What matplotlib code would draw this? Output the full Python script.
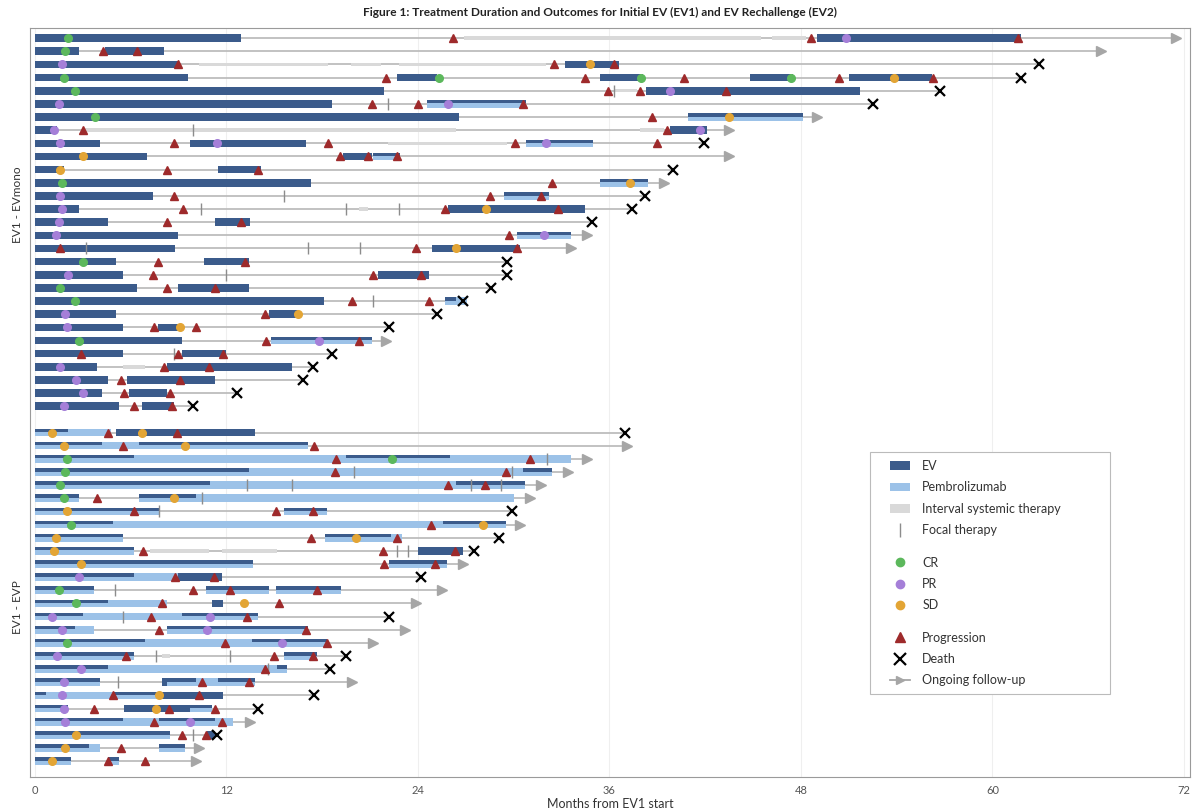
import numpy as np
import matplotlib
matplotlib.use("Agg")
import matplotlib.pyplot as plt
from matplotlib.patches import Patch, Rectangle
from matplotlib.lines import Line2D
from matplotlib.legend import Legend

plt.rcParams['font.family'] = ['Lato', 'DejaVu Sans']

# ---------------- EV1 - EVmono (top group, 29 patients) ----------------
mono_ev = [
    [(0, 12.9), (49.0, 61.8)], [(0, 2.8), (4.4, 8.1)], [(0, 9.0), (33.2, 36.6)],
    [(0, 9.6), (22.7, 25.2), (35.4, 38.1), (44.8, 47.5), (51.0, 56.2)],
    [(0, 21.9), (38.3, 51.7)], [(0, 18.6), (24.6, 30.8)], [(0, 26.6), (40.9, 48.1)],
    [(0, 1.4), (39.8, 42.1)], [(0, 4.1), (9.7, 17.0), (30.8, 35.0)],
    [(0, 7.0), (19.3, 21.1), (21.2, 22.9)], [(0, 1.8), (11.5, 14.2)],
    [(0, 17.3), (35.4, 38.4)], [(0, 7.4), (29.4, 32.2)], [(0, 2.8), (25.9, 34.5)],
    [(0, 4.6), (11.3, 13.5)], [(0, 9.0), (30.2, 33.6)], [(0, 8.8), (24.9, 30.4)],
    [(0, 5.1), (10.6, 13.4)], [(0, 5.5), (21.5, 24.7)], [(0, 6.4), (9.0, 13.4)],
    [(0, 18.1), (25.7, 26.4)], [(0, 5.1), (14.7, 16.5)], [(0, 5.5), (7.7, 9.0)],
    [(0, 9.2), (14.8, 21.1)], [(0, 5.5), (9.2, 12.0)], [(0, 3.9), (8.3, 16.1)],
    [(0, 4.6), (5.8, 11.3)], [(0, 4.2), (5.9, 8.3)], [(0, 5.3), (6.7, 8.7)],
]
mono_pem = [
    [], [], [], [], [], [(24.6, 30.8)], [(40.9, 48.1)], [], [(30.8, 35.0)],
    [(21.2, 22.9)], [], [(35.4, 38.4)], [(29.4, 32.2)], [], [], [(30.2, 33.6)],
    [], [], [], [], [(25.7, 27.1)], [], [], [(14.8, 21.1)], [], [], [], [], [],
]
mono_interval = [
    [(26.9, 45.5), (46.2, 48.3)], [], [(10.3, 18.4), (19.8, 21.7), (22.8, 32.0)],
    [], [(36.3, 37.7)], [], [], [(3.1, 26.4), (37.9, 39.4)], [(22.1, 29.6)],
    [], [], [], [], [(20.3, 20.9)], [], [], [], [], [], [], [], [], [], [], [],
    [(5.5, 6.9)], [], [], [],
]
mono_focal = [
    [], [], [], [], [36.3], [22.1], [], [9.9], [], [], [], [], [15.6],
    [10.4, 19.5, 22.8], [], [], [3.2, 17.1, 20.4], [], [12.0], [], [21.2],
    [], [], [], [8.7], [], [], [], [],
]
mono_cr = [
    [2.1], [1.9], [], [1.8, 25.3, 38.0, 47.4], [2.5], [], [3.8], [], [], [], [],
    [1.7], [], [], [], [], [], [3.0], [], [1.6], [2.5], [], [], [2.8], [], [],
    [], [], [],
]
mono_pr = [
    [50.8], [], [1.7], [], [39.8], [1.5, 25.9], [], [1.2, 41.7], [1.6, 11.4, 32.0],
    [], [], [], [1.6], [1.7], [1.5], [1.3, 31.9], [], [], [2.1], [], [], [1.9],
    [2.0], [17.8], [], [1.6], [2.6], [3.0], [1.8],
]
mono_sd = [
    [], [], [34.8], [53.8], [], [], [43.5], [], [], [3.0], [1.6], [37.3], [],
    [28.3], [], [], [26.4], [], [], [], [], [16.5], [9.1], [], [], [], [], [], [],
]
mono_prog = [
    [26.2, 48.6, 61.6], [4.3, 6.4], [9.0, 32.5, 36.3], [22.0, 34.5, 40.7, 50.4, 56.3],
    [35.9, 37.9, 43.3], [21.1, 24.0, 30.6], [38.7], [3.0, 39.6], [8.7, 18.4, 30.1, 39.0],
    [19.1, 20.9, 22.7], [8.3, 14.0], [32.4], [8.7, 28.5, 31.7], [9.3, 25.7, 32.8],
    [8.3, 12.9], [29.7], [1.6, 23.9, 30.2], [7.7, 13.2], [7.4, 21.2, 24.2], [8.3, 11.3],
    [19.9, 24.7], [14.4], [7.5, 10.1], [14.5, 20.3], [2.9, 9.0, 11.8], [8.1, 10.9],
    [5.4, 9.1], [5.6, 8.5], [6.2, 8.6],
]
mono_end = [71.5, 66.8, 62.9, 61.8, 56.7, 52.5, 49.0, 43.5, 41.9, 43.5, 40.0, 39.4,
            38.2, 37.4, 34.9, 34.6, 33.6, 29.6, 29.6, 28.6, 26.8, 25.2, 22.2, 22.0,
            18.6, 17.4, 16.8, 12.7, 9.9]
mono_death = [0, 0, 1, 1, 1, 1, 0, 0, 1, 0, 1, 0, 1, 1, 1, 0, 0, 1, 1, 1, 1, 1, 1, 0,
              1, 1, 1, 1, 1]

# ---------------- EV1 - EVP (bottom group, 26 patients) ----------------
evp_ev = [
    [(0, 2.1), (5.1, 13.8)], [(0, 4.2), (6.5, 17.1)], [(0, 6.2), (19.5, 26.0)],
    [(0, 13.4), (30.6, 32.4)], [(0, 11.0), (26.4, 30.7)], [(0, 2.8), (6.5, 10.1)],
    [(0, 7.8), (15.6, 18.3)], [(0, 4.9), (25.6, 29.5)], [(0, 5.5), (18.2, 22.3)],
    [(0, 6.2), (24.0, 26.8)], [(0, 13.7), (22.2, 25.8)], [(0, 6.2), (9.0, 11.7)],
    [(0, 3.7), (10.7, 14.7), (15.1, 19.2)], [(0, 4.6), (11.1, 11.8)],
    [(0, 3.0), (9.2, 14.0)], [(0, 2.5), (8.3, 17.1)], [(0, 6.9), (13.6, 18.3)],
    [(0, 6.2), (15.6, 17.7)], [(0, 4.6), (15.2, 15.8)],
    [(0, 4.1), (8.0, 10.1), (11.5, 13.8)], [(0, 0.7), (4.9, 11.8)],
    [(0, 2.1), (5.6, 11.1)], [(0, 5.5), (7.8, 11.3)], [(0, 8.5), (10.8, 11.3)],
    [(0, 3.4), (7.8, 9.4)], [(0, 2.3), (4.6, 5.3)],
]
evp_pem = [
    [(0, 4.8)], [(0, 17.1)], [(0, 33.6)], [(0, 32.4)], [(0, 30.7)],
    [(0, 2.8), (6.5, 30.0)], [(0, 7.8), (15.6, 18.3)], [(0, 29.5)],
    [(0, 5.5), (18.2, 23.0)], [(0, 6.2)], [(0, 13.7), (22.2, 25.8)], [(0, 9.0)],
    [(0, 3.7), (10.7, 14.7), (15.1, 19.2)], [(0, 8.3)], [(0, 14.0)],
    [(0, 3.7), (8.3, 17.1)], [(0, 18.3)], [(0, 6.2), (15.6, 17.7)], [(0, 15.8)],
    [(0, 4.1), (8.3, 13.8)], [(0, 7.8)], [(0, 2.1), (9.7, 11.1)], [(0, 12.4)],
    [(0, 8.5)], [(0, 4.1), (7.8, 9.4)], [(0, 2.3), (4.6, 5.3)],
]
evp_interval = [
    [], [], [], [], [], [], [], [], [], [(7.2, 10.9), (11.7, 15.2)], [], [], [], [],
    [], [], [], [(8.0, 8.5)], [], [], [], [], [], [], [], [],
]
evp_focal = [
    [], [], [32.1], [20.0, 29.9], [13.3, 16.1, 27.3, 29.2], [10.5], [7.8], [], [],
    [22.7, 23.4], [], [], [5.0], [], [5.5], [], [], [7.6, 12.2], [14.6], [5.2], [],
    [], [], [9.9], [], [],
]
evp_cr = [
    [], [], [2.0, 22.4], [1.9], [1.6], [1.8], [], [2.3], [], [], [], [], [1.5],
    [2.6], [], [], [2.0], [], [], [], [], [], [], [], [], [],
]
evp_pr = [
    [], [], [], [], [], [], [], [], [], [], [], [2.8], [], [], [1.1, 11.0],
    [1.7, 10.8], [15.5], [1.4], [2.9], [1.8], [1.7], [1.8], [1.9, 9.7], [], [], [],
]
evp_sd = [
    [1.1, 6.7], [1.8, 9.4], [], [], [], [8.7], [2.0], [28.1], [1.3, 20.1], [1.2],
    [2.9], [], [], [13.1], [], [], [], [], [], [], [7.8], [7.6], [], [2.6], [1.9],
    [1.1],
]
evp_prog = [
    [4.6, 8.9], [5.5, 17.5], [18.9, 31.0], [18.8, 29.5], [25.9, 28.2], [3.9],
    [6.2, 15.1, 17.4], [24.8], [17.3, 22.7], [6.8, 21.8, 26.3], [21.9, 25.1],
    [8.8, 11.2], [9.9, 12.2, 17.7], [8.0, 15.3], [7.3, 13.3], [7.8, 17.0],
    [11.9, 18.3], [5.7, 15.0, 17.4], [14.4], [10.5, 13.4], [4.9, 10.3],
    [3.7, 8.4, 11.3], [7.5, 11.7], [9.2, 10.7], [5.4], [4.6, 6.9],
]
evp_end = [37.0, 37.1, 34.6, 33.4, 31.7, 31.0, 29.9, 30.4, 29.1, 27.5, 26.8, 24.2,
           25.5, 23.9, 22.2, 23.2, 21.2, 19.5, 18.5, 19.9, 17.5, 14.0, 13.5, 11.4,
           10.3, 10.1]
evp_death = [1, 0, 0, 0, 0, 0, 1, 0, 1, 1, 0, 1, 0, 0, 1, 0, 0, 1, 1, 0, 1, 1, 0, 1,
             0, 0]

group_labels = ['EV1 - EVmono', 'EV1 - EVP']
xticks = [0, 12, 24, 36, 48, 60, 72]

C_EV = '#3b5b8b'
C_PEM = '#9cc2e8'
C_INT = '#d9d9d9'
C_LINE = '#bdbdbd'
C_ARROW = '#a6a6a6'
C_FOCAL = '#8c8c8c'
C_CR = '#5cb85c'
C_PR = '#a57fd8'
C_SD = '#e3a535'
C_PROG = '#9e2a2b'
H = 0.58


def draw_group(ax, y0, ev, pem, intv, focal, cr, pr, sd, prog, end, death):
    for i in range(len(ev)):
        y = y0 + i
        ax.hlines(y, 0, end[i], color=C_LINE, lw=1.3, zorder=1)
        for a, b in intv[i]:
            ax.barh(y, b - a, left=a, height=0.26, color=C_INT, zorder=2)
        for a, b in pem[i]:
            ax.barh(y, b - a, left=a, height=H, color=C_PEM, zorder=3)
        for a, b in ev[i]:
            ax.barh(y, b - a, left=a, height=H, color=C_EV, zorder=4)
        # pembrolizumab overlaid on lower part so combo shows EV on top half
        for a, b in pem[i]:
            ax.barh(y + 0.225 * H, b - a, left=a, height=0.55 * H, color=C_PEM, zorder=5)
        for f in focal[i]:
            ax.plot(f, y, marker='|', ms=9, mew=1.0, color=C_FOCAL, zorder=6, ls='none')
        ax.plot(cr[i], [y] * len(cr[i]), 'o', ms=5.5, color=C_CR, zorder=7, ls='none')
        ax.plot(pr[i], [y] * len(pr[i]), 'o', ms=5.5, color=C_PR, zorder=7, ls='none')
        ax.plot(sd[i], [y] * len(sd[i]), 'o', ms=5.5, color=C_SD, zorder=7, ls='none')
        ax.plot(prog[i], [y] * len(prog[i]), '^', ms=6, color=C_PROG, zorder=8, ls='none')
        if death[i]:
            ax.plot(end[i], y, 'x', ms=7, mew=1.6, color='black', zorder=9)
        else:
            ax.plot(end[i], y, '>', ms=7, color=C_ARROW, zorder=9)


fig = plt.figure(figsize=(12, 8.09), dpi=100)
ax = fig.add_axes([0.025, 0.0396, 0.967, 0.9256])

n1 = len(mono_ev)
n2 = len(evp_ev)
draw_group(ax, 0, mono_ev, mono_pem, mono_interval, mono_focal, mono_cr, mono_pr,
           mono_sd, mono_prog, mono_end, mono_death)
draw_group(ax, n1 + 1, evp_ev, evp_pem, evp_interval, evp_focal, evp_cr, evp_pr,
           evp_sd, evp_prog, evp_end, evp_death)

ax.set_xlim(-0.3, 72.4)
ax.set_ylim(n1 + n2 + 1.2, -0.76)
ax.set_yticks([])
ax.set_xticks(xticks)
ax.tick_params(axis='x', labelsize=8, colors='#555555', length=0, pad=6)
for x in xticks:
    ax.axvline(x, color='#efefef', lw=0.8, zorder=0)
for s in ax.spines.values():
    s.set_color('#9a9a9a')
    s.set_linewidth(0.8)

ax.set_xlabel('Months from EV1 start', fontsize=9, color='#333333', labelpad=1)
ax.text(-0.011, (n1 - 1) / 2 - 1.3, group_labels[0], rotation=90, fontsize=8.5,
        color='#333333', ha='center', va='center',
        transform=ax.get_yaxis_transform())
ax.text(-0.011, n1 + 1 + (n2 - 1) / 2 + 0.8, group_labels[1], rotation=90, fontsize=8.5,
        color='#333333', ha='center', va='center',
        transform=ax.get_yaxis_transform())

fig.suptitle('Figure 1: Treatment Duration and Outcomes for Initial EV (EV1) and EV Rechallenge (EV2)',
             y=0.991, fontsize=8.6, fontweight='bold', color='#222222')

# legend: three stacked blocks inside one frame
frame = Rectangle((0.724, 0.111), 0.207, 0.323, transform=ax.transAxes,
                  facecolor='white', edgecolor='#bbbbbb', lw=0.8, zorder=19)
ax.add_patch(frame)

leg_blocks = [
    ([Patch(facecolor=C_EV), Patch(facecolor=C_PEM), Patch(facecolor=C_INT),
      Line2D([], [], marker='|', ms=10, mew=1, color=C_FOCAL, ls='none')],
     ['EV', 'Pembrolizumab', 'Interval systemic therapy', 'Focal therapy'], 0.3725),
    ([Line2D([], [], marker='o', ms=6, color=C_CR, ls='none'),
      Line2D([], [], marker='o', ms=6, color=C_PR, ls='none'),
      Line2D([], [], marker='o', ms=6, color=C_SD, ls='none')],
     ['CR', 'PR', 'SD'], 0.2577),
    ([Line2D([], [], marker='^', ms=7, color=C_PROG, ls='none'),
      Line2D([], [], marker='x', ms=8, mew=1.6, color='black', ls='none'),
      Line2D([0, 1], [0, 0], marker='>', markevery=[1], ms=6, color=C_ARROW, lw=1.3)],
     ['Progression', 'Death', 'Ongoing follow-up'], 0.1575),
]
for hs, ls, yc in leg_blocks:
    lg = Legend(ax, hs, ls, loc='center left', bbox_to_anchor=(0.7414, yc),
                fontsize=9, frameon=False, handlelength=1.6, handletextpad=0.95,
                labelspacing=0.75, borderpad=0, borderaxespad=0)
    for t in lg.get_texts():
        t.set_color('#333333')
    lg.set_zorder(20)
    ax.add_artist(lg)

fig.savefig('out.png', dpi=100)
